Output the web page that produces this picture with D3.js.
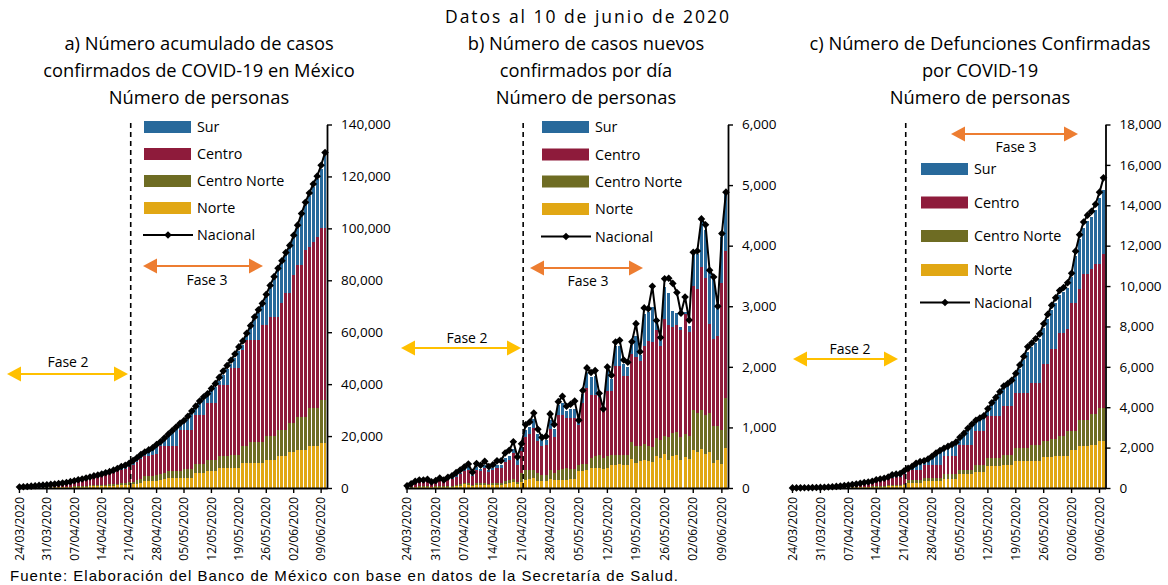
<!DOCTYPE html>
<html>
<head>
<meta charset="utf-8">
<script src="https://cdn.jsdelivr.net/npm/d3@7"></script>
<style>
  body { margin: 0; background: #fff; }
  svg text { font-family: "Open Sans", sans-serif; fill: #000; }
</style>
</head>
<body>
<svg id="chart" width="1168" height="585"></svg>
<script>
// categorias: un dia por barra, del 24/03/2020 al 10/06/2020
const fechas = d3.timeDay.range(new Date(2020, 2, 24), new Date(2020, 5, 11)).map(d3.timeFormat("%d/%m/%Y"));
const etiquetasFecha = ["24/03/2020","31/03/2020","07/04/2020","14/04/2020","21/04/2020","28/04/2020",
  "05/05/2020","12/05/2020","19/05/2020","26/05/2020","02/06/2020","09/06/2020"];
const regiones = ["Sur", "Centro", "Centro Norte", "Norte"];   // orden de la leyenda

// a) casos acumulados
const casosNacional = [405,475,585,717,848,993,1094,1215,1378,1510,1688,1890,2143,2439,2785,3181,3441,3844,4219,4661,
  5014,5399,5847,6297,6875,7497,8261,8772,9501,10544,11633,12872,13842,14677,15529,16752,17799,19224,20739,22088,
  23471,24905,26025,27634,29616,31522,33460,35022,36327,38324,40186,42595,45032,47144,49219,51633,54346,56594,59567,62527,
  65856,68620,71105,74560,78023,81400,84627,87512,90664,93435,97326,101238,105680,110026,113619,117103,120102,124301,129184];
const casosNorte = [55,65,80,100,120,140,150,170,190,210,235,265,300,340,390,445,480,540,590,650,
  700,755,820,880,960,1050,1155,1230,1330,1500,1700,2000,2540,2540,2600,2700,3100,3400,3850,3850,
  3850,3850,3850,3850,3850,5770,5770,5770,6400,6400,6400,7700,7700,7700,7700,7700,7700,9600,9600,9600,
  9600,9600,9600,10900,10900,10900,12150,12150,12150,13700,13700,14700,14700,14700,16000,16000,16000,17300,17300];
const casosCentroNorte = [35,45,55,65,75,90,100,110,125,135,150,170,195,220,250,285,310,345,380,420,
  450,485,525,565,620,675,745,790,855,1000,1200,1500,2200,2200,2200,2300,2400,2300,2550,2550,
  2550,2550,3450,3450,3450,3580,3580,3580,4500,4500,4500,4450,4450,4450,5100,5100,5100,6400,6400,8300,
  8300,8300,8300,8950,8950,8950,10250,10250,10250,11300,11300,12800,12800,12800,14770,14770,14770,16660,16660];
const casosCentro = [250,295,360,445,525,615,680,750,855,935,1045,1170,1330,1510,1725,1970,2135,2380,2615,2890,
  3110,3345,3625,3905,4260,4650,5120,5440,5890,6500,7100,7800,7600,7700,7800,8000,10500,10300,9600,9600,
  9600,15900,15100,15100,15100,18850,18850,18850,21800,21800,21800,27550,27550,27550,33350,33350,33350,37200,41000,39100,
  39100,39100,44950,43000,46150,46150,43600,48750,52600,50000,57000,58400,58400,64150,61880,64080,66030,66040,66040];
const casosSur = [40,45,55,70,85,95,105,115,130,145,160,180,205,230,265,300,325,365,400,445,
  475,515,555,600,655,710,785,835,900,1000,1100,1200,1100,1800,2400,3300,1300,2600,4000,5400,
  6700,1800,2800,4300,6200,2300,4200,5700,2600,4500,6300,1600,3900,6000,1600,4000,6500,1700,1600,4500,
  7800,10500,7200,10700,11000,14400,17600,15350,14600,17400,14300,14300,18700,17300,19900,21100,22100,23000,28000];

// b) casos nuevos por dia
const nuevosNacional = [38,70,110,132,131,145,101,121,163,132,178,202,253,296,346,396,260,403,375,442,
  353,385,448,450,578,622,764,511,729,1043,1089,1239,970,835,852,1223,1047,1425,1515,1349,
  1383,1434,1120,1609,1982,1906,1938,1562,1305,1997,1862,2409,2437,2112,2075,2414,2713,2248,2973,2960,
  3329,2764,2485,3455,3463,3377,3227,2885,3152,2771,3891,3912,4442,4346,3593,3484,2999,4199,4883];
const nuevosNorte = [5,8,13,16,16,17,12,15,20,16,21,24,30,36,60,55,31,48,45,53,
  42,46,54,54,69,75,92,61,100,130,150,160,120,110,110,150,130,140,140,140,
  150,150,275,280,290,330,330,330,320,330,380,385,390,385,380,480,420,440,470,440,
  430,520,500,560,470,520,540,460,510,480,620,590,640,560,600,420,470,400,660];
const nuevosCentroNorte = [3,6,9,11,10,12,8,10,13,11,14,16,20,24,28,32,21,32,30,35,
  28,31,36,36,46,50,61,41,150,160,140,130,120,100,110,140,120,160,180,190,
  160,170,110,110,100,170,190,210,180,190,170,165,160,165,170,276,276,250,250,250,
  240,300,300,300,380,380,380,380,380,380,667,650,640,640,640,607,550,550,830];
const nuevosCentro = [20,38,60,73,72,80,56,66,90,73,98,111,139,163,190,218,143,222,206,243,
  194,212,246,248,318,342,420,281,360,560,600,700,530,480,490,690,600,912,892,827,
  847,837,662,1010,1263,1043,1023,960,767,1078,1048,1461,1470,1296,1296,1460,1460,1410,1624,1734,
  1734,1790,1550,1927,1847,1765,1765,1765,1985,1720,2039,2050,2369,2260,1460,1433,1490,2426,2422];
const nuevosSur = [4,7,11,13,13,15,10,12,16,13,18,20,25,30,35,40,26,40,38,44,
  35,39,45,45,58,62,76,120,70,100,120,150,120,100,90,150,120,165,188,110,
  143,143,53,150,247,287,307,50,33,330,202,339,330,204,154,138,359,100,524,476,
  576,110,100,523,523,255,205,55,35,100,594,580,744,800,880,990,470,774,968];

// c) defunciones confirmadas acumuladas
const defNacional = [5,6,8,12,16,20,28,29,37,50,60,79,94,125,141,174,194,233,273,296,
  332,406,449,486,546,650,686,712,857,970,1069,1221,1305,1351,1434,1569,1732,1859,1972,2061,
  2154,2271,2507,2704,2961,3160,3353,3465,3573,3926,4220,4477,4767,5045,5177,5332,5666,6090,6510,6989,
  7179,7394,7633,8134,8597,9044,9415,9779,9930,10167,10637,11729,12545,13170,13511,13699,14053,14649,15357];
const defNorte = [1,1,1,2,2,3,4,4,6,8,9,12,14,19,21,26,29,35,41,44,
  50,61,67,73,82,98,103,107,130,248,248,248,248,330,330,330,330,330,447,447,
  447,447,710,710,710,710,777,777,777,1075,1075,1075,1075,1158,1158,1158,1323,1323,1323,1323,
  1323,1323,1323,1522,1522,1522,1605,1605,1605,1605,1870,1870,2068,2068,2068,2151,2151,2316,2316];
const defCentroNorte = [0,0,1,1,1,2,2,2,3,4,5,6,7,10,11,14,16,19,22,24,
  27,32,36,39,44,52,55,57,70,132,132,132,132,166,166,166,166,166,263,263,
  263,263,200,200,200,200,381,381,381,414,414,414,414,497,497,497,662,662,662,662,
  828,828,828,794,794,910,827,992,992,1207,942,942,1324,1324,1324,1522,1522,1655,1655];
const defCentro = [3,3,4,6,9,11,15,16,20,27,33,43,52,69,78,96,107,128,150,163,
  183,223,247,267,300,358,377,392,470,530,530,530,530,662,662,662,662,662,862,862,
  862,862,1241,1241,1241,1241,1654,1654,1654,2068,2068,2068,2068,2398,2398,2398,2730,2730,2730,2730,
  3060,3060,3060,3805,3805,4434,4434,5095,5095,5039,6369,6369,6464,7195,7195,7161,7409,7111,7607];
const defSur = [1,1,1,2,2,3,4,4,5,7,9,12,14,19,21,26,29,35,41,44,
  50,61,67,73,82,97,103,107,120,30,130,270,360,150,230,360,520,640,340,430,
  520,630,280,480,720,920,450,560,670,260,550,800,1080,850,980,1130,800,1200,1600,2000,
  1750,1950,2180,1780,2230,1950,2300,1850,2000,2050,1250,2300,2450,2300,2650,2600,2700,3300,3200];

const colores = {"Norte": "#E1A714", "Centro Norte": "#6E6C23", "Centro": "#8E1B3B", "Sur": "#28699B"};
const amarillo = "#FFC000", naranja = "#ED7D31";

const svg = d3.select("#chart");

svg.append("text")
  .attr("x", 587).attr("y", 23)
  .attr("text-anchor", "middle")
  .attr("textLength", 284).attr("lengthAdjust", "spacing")
  .style("font-size", "17.5px")
  .text("Datos al 10 de junio de 2020");

svg.append("text")
  .attr("x", 10).attr("y", 581)
  .attr("textLength", 668).attr("lengthAdjust", "spacing")
  .style("font-family", "'Liberation Sans', Arial, sans-serif").style("font-size", "15px")
  .text("Fuente: Elaboración del Banco de México con base en datos de la Secretaría de Salud.");

const paneles = [
  {titulo: ["a) Número acumulado de casos", "confirmados de COVID-19 en México", "Número de personas"], tx: 199,
   nacional: casosNacional, series: {"Norte": casosNorte, "Centro Norte": casosCentroNorte, "Centro": casosCentro, "Sur": casosSur},
   yMax: 140000, yPaso: 20000, x0: 17.5, x1: 327,
   ley: {x: 144, y: [127, 154, 181, 208, 235]},
   fase2: {x1: 7, x2: 128, y: 374, tx: 68, ty: 367},
   fase3: {x1: 143, x2: 263, y: 266, tx: 207, ty: 285}},
  {titulo: ["b) Número de casos nuevos", "confirmados por día", "Número de personas"], tx: 586,
   nacional: nuevosNacional, series: {"Norte": nuevosNorte, "Centro Norte": nuevosCentroNorte, "Centro": nuevosCentro, "Sur": nuevosSur},
   yMax: 6000, yPaso: 1000, x0: 405, x1: 728,
   ley: {x: 542, y: [127, 154.5, 181.5, 209, 236.5]},
   fase2: {x1: 401, x2: 521, y: 348, tx: 467, ty: 343},
   fase3: {x1: 530, x2: 643, y: 268, tx: 588, ty: 286}},
  {titulo: ["c) Número de Defunciones Confirmadas", "por COVID-19", "Número de personas"], tx: 980,
   nacional: defNacional, series: {"Norte": defNorte, "Centro Norte": defCentroNorte, "Centro": defCentro, "Sur": defSur},
   yMax: 18000, yPaso: 2000, x0: 790.5, x1: 1105.5,
   ley: {x: 921, y: [169, 202.5, 236, 270, 302.5]},
   fase2: {x1: 793, x2: 898, y: 359, tx: 850, ty: 354},
   fase3: {x1: 951, x2: 1078, y: 134, tx: 1016, ty: 152}}
];

function flecha(g, f, color, texto) {
  const a = 14, h = 7.5;
  g.append("line")
    .attr("x1", f.x1 + a - 2).attr("x2", f.x2 - a + 2)
    .attr("y1", f.y).attr("y2", f.y)
    .attr("stroke", color).attr("stroke-width", 2);
  g.append("path")
    .attr("d", `M${f.x1},${f.y}L${f.x1 + a},${f.y - h}L${f.x1 + a},${f.y + h}Z`)
    .attr("fill", color);
  g.append("path")
    .attr("d", `M${f.x2},${f.y}L${f.x2 - a},${f.y - h}L${f.x2 - a},${f.y + h}Z`)
    .attr("fill", color);
  g.append("text")
    .attr("x", f.tx).attr("y", f.ty)
    .attr("text-anchor", "middle")
    .style("font-size", "14px")
    .text(texto);
}

const rombo = "M0,-3.8L3.8,0L0,3.8L-3.8,0Z";

paneles.forEach(p => {
  const g = svg.append("g");

  p.titulo.forEach((t, i) => {
    g.append("text")
      .attr("x", p.tx).attr("y", 50 + i * 27)
      .attr("text-anchor", "middle")
      .style("font-size", "18.3px")
      .text(t);
  });

  const x = d3.scaleBand().domain(fechas).range([p.x0, p.x1]).paddingInner(0.26).paddingOuter(0.13);
  const y = d3.scaleLinear().domain([0, p.yMax]).range([488, 124.5]);

  const filas = fechas.map((f, i) => {
    const r = {fecha: f};
    Object.keys(p.series).forEach(k => r[k] = p.series[k][i]);
    return r;
  });
  const pila = d3.stack().keys(["Norte", "Centro Norte", "Centro", "Sur"])(filas);

  g.append("g")
    .attr("shape-rendering", "crispEdges")
    .selectAll("g")
    .data(pila)
    .join("g")
      .attr("fill", d => colores[d.key])
    .selectAll("rect")
    .data(d => d)
    .join("rect")
      .attr("x", d => x(d.data.fecha))
      .attr("width", x.bandwidth())
      .attr("y", d => y(d[1]))
      .attr("height", d => y(d[0]) - y(d[1]));

  // linea vertical de inicio de Fase 3 (21/04/2020)
  const xf = x("21/04/2020") + x.bandwidth() / 2 + 0.4 * x.step();
  g.append("line")
    .attr("x1", xf).attr("x2", xf).attr("y1", 123).attr("y2", 488)
    .attr("stroke", "#000").attr("stroke-width", 1.6).attr("stroke-dasharray", "5,4");

  // ejes
  const ejeX = g.append("g")
    .attr("transform", "translate(0,488)")
    .call(d3.axisBottom(x).tickValues(etiquetasFecha).tickSize(5).tickSizeOuter(0));
  ejeX.selectAll("text")
    .attr("transform", "rotate(-90)")
    .attr("x", -9).attr("y", 0).attr("dy", "0.35em")
    .style("text-anchor", "end")
    .style("font-size", "12px")
    .style("font-family", "'Open Sans', sans-serif");

  const ejeY = g.append("g")
    .attr("transform", `translate(${p.x1},0)`)
    .call(d3.axisRight(y).tickValues(d3.range(0, p.yMax + 1, p.yPaso))
      .tickFormat(d3.format(",")).tickSize(5).tickPadding(9).tickSizeOuter(0));
  ejeY.selectAll("text")
    .style("font-size", "13.5px")
    .style("font-family", "'Open Sans', sans-serif");

  [ejeX, ejeY].forEach(e => {
    e.select(".domain").attr("stroke", "#000").attr("stroke-width", 1.8);
    e.selectAll(".tick line").attr("stroke", "#000").attr("stroke-width", 1.4);
  });

  // linea Nacional
  const cx = i => x(fechas[i]) + x.bandwidth() / 2;
  g.append("path")
    .datum(p.nacional)
    .attr("fill", "none").attr("stroke", "#000").attr("stroke-width", 2)
    .attr("d", d3.line().x((d, i) => cx(i)).y(d => y(d)));
  g.append("g").selectAll("path")
    .data(p.nacional)
    .join("path")
      .attr("d", rombo)
      .attr("transform", (d, i) => `translate(${cx(i)},${y(d)})`)
      .attr("fill", "#000");

  // leyenda
  const ley = g.append("g");
  regiones.forEach((r, i) => {
    ley.append("rect")
      .attr("x", p.ley.x).attr("y", p.ley.y[i] - 6)
      .attr("width", 47).attr("height", 12)
      .attr("fill", colores[r]);
    ley.append("text")
      .attr("x", p.ley.x + 53).attr("y", p.ley.y[i]).attr("dy", "0.35em")
      .style("font-size", "14.3px")
      .text(r);
  });
  const yl = p.ley.y[4];
  ley.append("line")
    .attr("x1", p.ley.x - 1).attr("x2", p.ley.x + 49).attr("y1", yl).attr("y2", yl)
    .attr("stroke", "#000").attr("stroke-width", 1.8);
  ley.append("path").attr("d", rombo).attr("transform", `translate(${p.ley.x + 24},${yl})`);
  ley.append("text")
    .attr("x", p.ley.x + 53).attr("y", yl).attr("dy", "0.35em")
    .style("font-size", "14.3px")
    .text("Nacional");

  flecha(g, p.fase2, amarillo, "Fase 2");
  flecha(g, p.fase3, naranja, "Fase 3");
});
</script>
</body>
</html>
